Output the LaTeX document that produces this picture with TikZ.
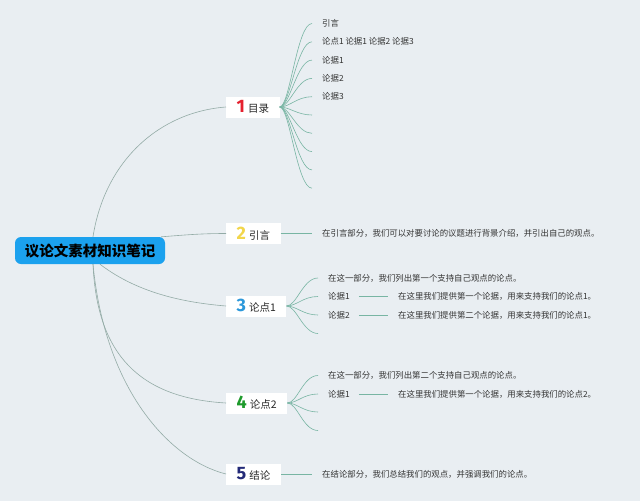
\documentclass[tikz,border=0pt]{standalone}
\usepackage{fontspec}
\setmainfont{Noto Sans CJK SC}
\newfontfamily\numfont{Fira Sans}
\definecolor{bgcol}{HTML}{E9EEF2}
\definecolor{rootblue}{HTML}{1BA1EE}
\definecolor{numa}{HTML}{E5202E}
\definecolor{numb}{HTML}{F2D64B}
\definecolor{numc}{HTML}{2C98DA}
\definecolor{numd}{HTML}{1E9A2C}
\definecolor{nume}{HTML}{232A78}
\definecolor{linegrey}{HTML}{93ABA6}
\definecolor{subgreen}{HTML}{78B5A3}
\definecolor{textgrey}{HTML}{333333}
\newcommand\bnum[2]{{\numfont\bfseries\fontsize{18}{18}\selectfont\color{#1}#2}}
\begin{document}
\begin{tikzpicture}[x=1pt,y=-1pt,
  rootline/.style={draw=linegrey, line width=0.6pt},
  subline/.style={draw=subgreen, line width=0.6pt},
  rootbox/.style={fill=rootblue, rounded corners=6pt, minimum width=150pt, minimum height=27pt, inner sep=0pt, font=\fontsize{14.5}{16}\selectfont\bfseries, text=black},
  branch/.style={fill=white, minimum height=21pt, inner xsep=10.5pt, inner ysep=0pt, anchor=west, font=\fontsize{10.5}{12}\selectfont, text=black!85},
  leaf/.style={anchor=west, inner sep=0pt, font=\fontsize{8.4}{10}\selectfont, text=textgrey},
]
\fill[bgcol] (0,0) rectangle (640,501);
\useasboundingbox (0,0) rectangle (640,501);

% root
\node[rootbox] (root) at (90,250.5) {议论文素材知识笔记};

% branches
\node[branch] (b1) at (226,107) {\bnum{numa}{1}\hspace{3pt}目录};
\node[branch] (b2) at (226,233.5) {\bnum{numb}{2}\hspace{3pt}引言};
\node[branch] (b3) at (226,306) {\bnum{numc}{3}\hspace{3pt}论点1};
\node[branch] (b4) at (226,403) {\bnum{numd}{4}\hspace{3pt}论点2};
\node[branch] (b5) at (226,474) {\bnum{nume}{5}\hspace{3pt}结论};

% root connectors
\draw[rootline] ([xshift=3pt]root.north) .. controls (105,160) and (160,112) .. (b1.west);
\draw[rootline] ([xshift=-4pt]root.north east) .. controls (185,235) and (200,233.5) .. (b2.west);
\draw[rootline] ([xshift=10pt]root.south) .. controls (140,295) and (190,303) .. (b3.west);
\draw[rootline] ([xshift=3pt]root.south) .. controls (97,355) and (140,398) .. (b4.west);
\draw[rootline] ([xshift=3pt]root.south) .. controls (105,390) and (170,460) .. (b5.west);

% fan of branch 1
\foreach \i/\y in {1/23.5,2/41.8,3/60.1,4/78.4,5/96.7,6/115,7/133.3,8/151.6,9/169.9,10/188.2}{
  \coordinate (a\i) at (312,\y);
  \draw[subline] (b1.east) .. controls +(10,0) and +(-15,0) .. (a\i);
}
\node[leaf] (la1) at ([xshift=10pt]a1) {引言};
\node[leaf] (la2) at ([xshift=10pt]a2) {论点1 论据1 论据2 论据3};
\node[leaf] (la3) at ([xshift=10pt]a3) {论据1};
\node[leaf] (la4) at ([xshift=10pt]a4) {论据2};
\node[leaf] (la5) at ([xshift=10pt]a5) {论据3};

% branch 2
\node[leaf] (t2) at (322,233.5) {在引言部分，我们可以对要讨论的议题进行背景介绍，并引出自己的观点。};
\draw[subline, shorten >=10pt] (b2.east) -- (t2.west);

% fan of branch 3
\foreach \i/\y in {1/278,2/296.5,3/315,4/333.5}{
  \coordinate (c\i) at (318,\y);
  \draw[subline] (b3.east) .. controls +(10,0) and +(-15,0) .. (c\i);
}
\node[leaf] (lc1) at ([xshift=10pt]c1) {在这一部分，我们列出第一个支持自己观点的论点。};
\node[leaf] (lc2) at ([xshift=10pt]c2) {论据1};
\node[leaf] (lc3) at ([xshift=10pt]c3) {论据2};
\node[leaf] (dc2) at (398,296.5) {在这里我们提供第一个论据，用来支持我们的论点1。};
\node[leaf] (dc3) at (398,315) {在这里我们提供第二个论据，用来支持我们的论点1。};
\draw[subline, shorten <=9pt, shorten >=10pt] (lc2.east) -- (dc2.west);
\draw[subline, shorten <=9pt, shorten >=10pt] (lc3.east) -- (dc3.west);

% fan of branch 4
\foreach \i/\y in {1/375.5,2/394,3/412,4/430.5}{
  \coordinate (d\i) at (318,\y);
  \draw[subline] (b4.east) .. controls +(10,0) and +(-15,0) .. (d\i);
}
\node[leaf] (ld1) at ([xshift=10pt]d1) {在这一部分，我们列出第二个支持自己观点的论点。};
\node[leaf] (ld2) at ([xshift=10pt]d2) {论据1};
\node[leaf] (dd2) at (398,394) {在这里我们提供第一个论据，用来支持我们的论点2。};
\draw[subline, shorten <=9pt, shorten >=10pt] (ld2.east) -- (dd2.west);

% branch 5
\node[leaf] (t5) at (322,474) {在结论部分，我们总结我们的观点，并强调我们的论点。};
\draw[subline, shorten >=10pt] (b5.east) -- (t5.west);
\end{tikzpicture}
\end{document}
